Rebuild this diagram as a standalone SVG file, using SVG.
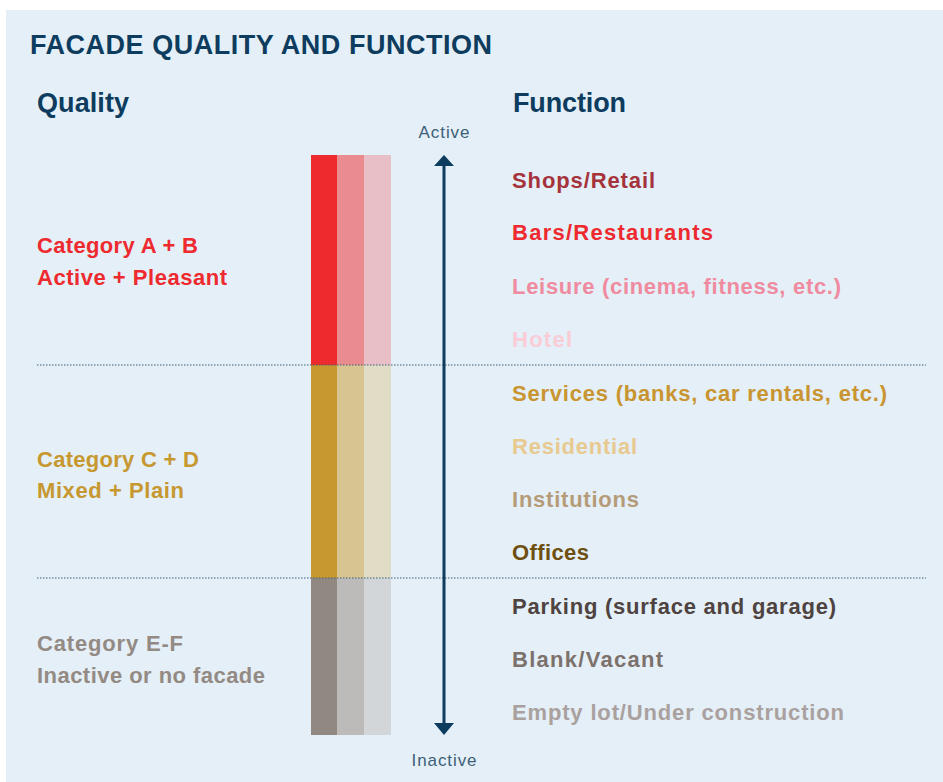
<svg xmlns="http://www.w3.org/2000/svg" width="943" height="782" viewBox="0 0 943 782">
<defs>
<style>
.t{font-family:"Liberation Sans",Arial,sans-serif;font-weight:bold}
.h{font-size:27px;fill:#0d3c5e}
.c{font-size:22px}
.f{font-size:22px}
.ax{font-family:"Liberation Sans",Arial,sans-serif;font-size:17px;fill:#3d5f78;text-anchor:middle}
.sep{stroke:#3d5f78;stroke-width:1.2;stroke-dasharray:1.5 1.5}
</style>
</defs>
<rect x="6" y="10" width="937" height="772" fill="#e4eff7"/>
<g id="headings">
<text class="t h" x="30" y="54" textLength="462">FACADE QUALITY AND FUNCTION</text>
<text class="t h" x="37" y="112" textLength="92">Quality</text>
<text class="t h" x="513" y="112" textLength="113">Function</text>
</g>

<g id="bars">
<rect x="311" y="155" width="26" height="210" fill="#ee2a2f"/>
<rect x="337" y="155" width="27" height="210" fill="#e98b8f"/>
<rect x="364" y="155" width="27" height="210" fill="#e8bfc7"/>
<rect x="311" y="365" width="26" height="213" fill="#c6982f"/>
<rect x="337" y="365" width="27" height="213" fill="#d7c491"/>
<rect x="364" y="365" width="27" height="213" fill="#e0dcc5"/>
<rect x="311" y="578" width="26" height="157" fill="#928882"/>
<rect x="337" y="578" width="27" height="157" fill="#bcbbba"/>
<rect x="364" y="578" width="27" height="157" fill="#d2d6d9"/>
</g>

<g id="connectors">
<line class="sep" x1="37" y1="365" x2="926" y2="365"/>
<line class="sep" x1="37" y1="578" x2="926" y2="578"/>
<line x1="444" y1="165" x2="444" y2="725" stroke="#0d3c5e" stroke-width="3"/>
<path d="M434,166 L444,155 L454,166 Z" fill="#0d3c5e"/>
<path d="M434,723 L444,735 L454,723 Z" fill="#0d3c5e"/>
</g>
<g id="axis-labels">
<text class="ax" x="444" y="138" textLength="51">Active</text>
<text class="ax" x="444" y="766" textLength="65">Inactive</text>
</g>

<g id="cat-ab" class="t c" fill="#ee2a2f">
<text x="37" y="253" textLength="161">Category A + B</text>
<text x="37" y="285" textLength="190">Active + Pleasant</text>
</g>
<g id="cat-cd" class="t c" fill="#c6982f">
<text x="37" y="467" textLength="162">Category C + D</text>
<text x="37" y="498" textLength="147">Mixed + Plain</text>
</g>
<g id="cat-ef" class="t c" fill="#948a84">
<text x="37" y="651" textLength="146">Category E-F</text>
<text x="37" y="683" textLength="228">Inactive or no facade</text>
</g>

<g id="functions" class="t f">
<text x="512" y="188" fill="#a5333b" textLength="143">Shops/Retail</text>
<text x="512" y="240" fill="#ee2a2f" textLength="201">Bars/Restaurants</text>
<text x="512" y="294" fill="#f08a9e" textLength="329">Leisure (cinema, fitness, etc.)</text>
<text x="512" y="347" fill="#f9ccd6" textLength="60">Hotel</text>
<text x="512" y="401" fill="#c99530" textLength="375">Services (banks, car rentals, etc.)</text>
<text x="512" y="454" fill="#e8c98f" textLength="125">Residential</text>
<text x="512" y="507" fill="#b59b78" textLength="127">Institutions</text>
<text x="512" y="560" fill="#6e4f10" textLength="77">Offices</text>
<text x="512" y="614" fill="#4e4340" textLength="324">Parking (surface and garage)</text>
<text x="512" y="667" fill="#7d716c" textLength="151">Blank/Vacant</text>
<text x="512" y="720" fill="#aaa19f" textLength="332">Empty lot/Under construction</text>
</g>
</svg>
